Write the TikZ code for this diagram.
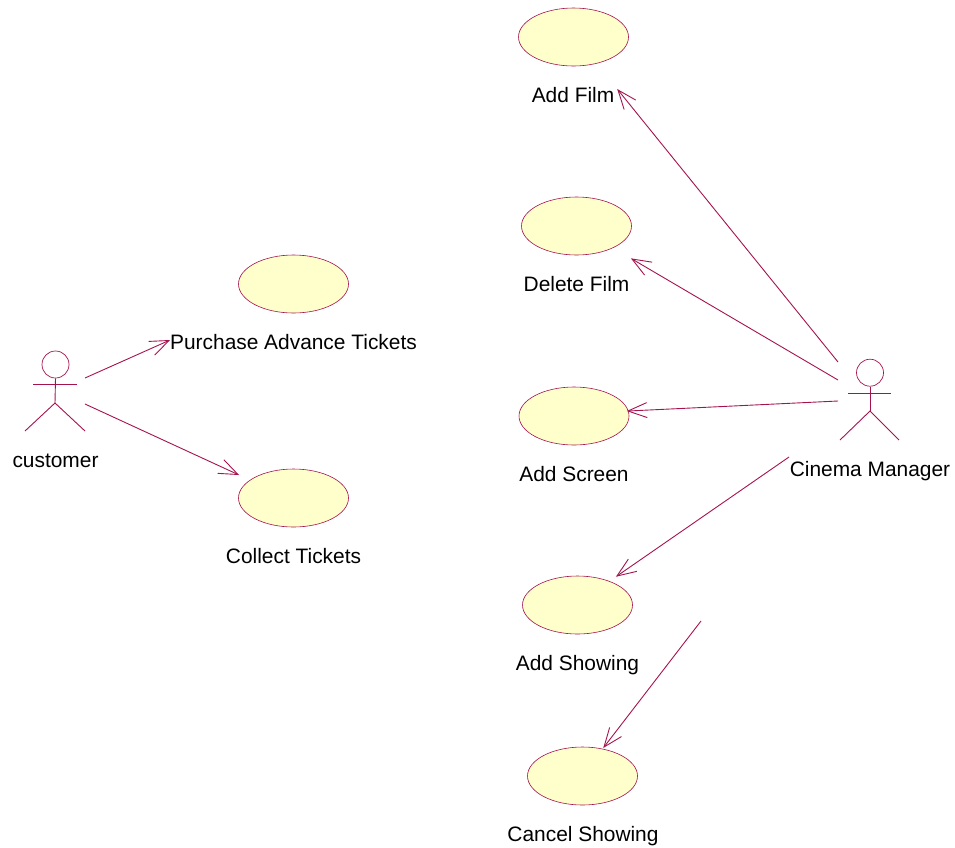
\documentclass[tikz,border=0pt]{standalone}
\usepackage{fontspec}
\setmainfont{Liberation Sans}
\usetikzlibrary{calc,shapes.geometric}
\definecolor{umlline}{HTML}{A5134F}
\definecolor{umlfill}{HTML}{FFFFCC}
\tikzset{
  usecase/.style={ellipse,draw=umlline,fill=umlfill,line width=0.6pt,minimum width=110pt,minimum height=58pt,inner sep=0pt},
  lbl/.style={font=\fontsize{20.9}{24}\selectfont,text=black,inner sep=0pt,anchor=base},
  assoc/.style={draw=umlline,line width=0.9pt},
  actorline/.style={draw=umlline,line width=0.9pt},
  actorhead/.style={circle,draw=umlline,line width=0.7pt,minimum size=27pt,inner sep=0pt}
}
\newcommand{\assocline}[2]{%
  \draw[assoc] (#1) -- (#2);
  \draw[assoc] ($(#2)!20.4pt!21.5:(#1)$) -- (#2) -- ($(#2)!20.4pt!-21.5:(#1)$);
}
\begin{document}
\begin{tikzpicture}[x=1pt,y=-1pt]
\useasboundingbox (0,0) rectangle (955,847);
% use cases
\node[usecase] (film) at (573.5,37) {};
\node[usecase] (delete) at (576.5,226) {};
\node[usecase] (screen) at (574,416) {};
\node[usecase] (showing) at (577.5,605) {};
\node[usecase] (cancel) at (582.5,776) {};
\node[usecase] (purchase) at (293.5,284) {};
\node[usecase] (collect) at (293.5,498) {};
% labels
\node[lbl] (lfilm) at (573,102) {Add Film};
\node[lbl] (ldelete) at (576.5,291) {Delete Film};
\node[lbl] (lscreen) at (574,481) {Add Screen};
\node[lbl] (lshowing) at (577.5,670) {Add Showing};
\node[lbl] (lcancel) at (583,841) {Cancel Showing};
\node[lbl] (lpurchase) at (293.5,349) {Purchase Advance Tickets};
\node[lbl] (lcollect) at (293.5,563) {Collect Tickets};
\node[lbl] (lcustomer) at (55.5,467) {customer};
\node[lbl] (lmanager) at (870,476) {Cinema Manager};
% customer actor
\node[actorhead] (chead) at (55.5,364.5) {};
\coordinate (chip) at (55,403);
\coordinate (carmL) at (33,384);
\coordinate (carmR) at (77,384);
\coordinate (clegL) at (25,431);
\coordinate (clegR) at (85,431);
\draw[actorline] (chead.south) -- (chip);
\draw[actorline] (carmL) -- (carmR);
\draw[actorline] (clegL) -- (chip) -- (clegR);
% manager actor
\node[actorhead] (mhead) at (870,372.7) {};
\coordinate (mhip) at (870,411);
\coordinate (marmL) at (848,393);
\coordinate (marmR) at (891,393);
\coordinate (mlegL) at (840,440);
\coordinate (mlegR) at (899,440);
\draw[actorline] (mhead.south) -- (mhip);
\draw[actorline] (marmL) -- (marmR);
\draw[actorline] (mlegL) -- (mhip) -- (mlegR);
% connector ends
\coordinate (s1) at (85,378);
\coordinate (t1) at (169,340.5);
\coordinate (s2) at (85,404);
\coordinate (t2) at (238,474.5);
\coordinate (s3) at (838,362);
\coordinate (t3) at (618,90);
\coordinate (s4) at (838,380);
\coordinate (t4) at (632,259);
\coordinate (s5) at (838,401);
\coordinate (t5) at (628,411);
\coordinate (s6) at (789,457);
\coordinate (t6) at (617,576);
\coordinate (s7) at (701,621);
\coordinate (t7) at (604,747);
\assocline{s1}{t1}
\assocline{s2}{t2}
\assocline{s3}{t3}
\assocline{s4}{t4}
\assocline{s5}{t5}
\assocline{s6}{t6}
\assocline{s7}{t7}
\end{tikzpicture}
\end{document}
